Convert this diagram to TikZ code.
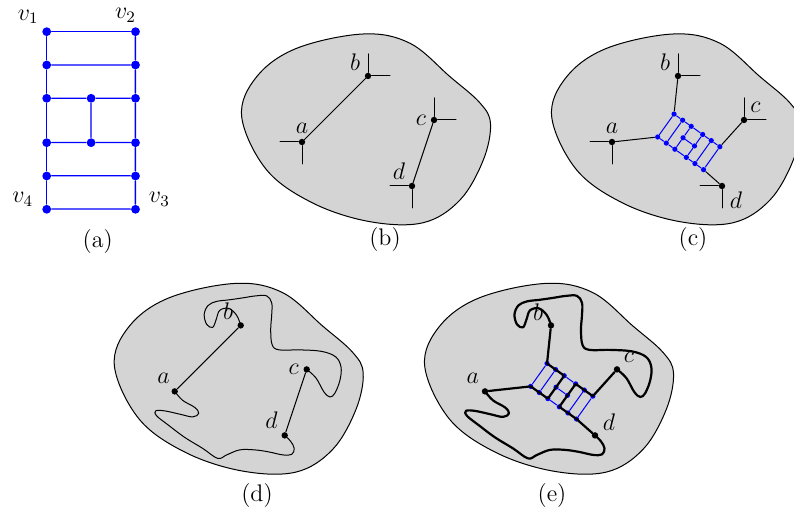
\documentclass[tikz,border=0pt]{standalone}
\usetikzlibrary{positioning}

% the grey region of panels (b)--(e), in panel coordinates
\newcommand{\drawregion}{%
  \draw[region] plot[smooth cycle, tension=0.6] coordinates {
    (11.7,143.3) (26.7,183.3) (66.7,211.7) (133.3,226) (180,216.7) (220,183.3)
    (250,157) (260.5,136) (253.3,100) (230,60) (193.3,37.3) (140,38.3)
    (83.3,56.7) (36.7,90)};}

% the gadget graph, v1 = L1, v2 = R1, v3 = R6, v4 = L6
\newcommand{\ladder}[1]{%
  \foreach \n/\x/\y in {L1/0/0, L2/0/-0.75, L3/0/-1.5, L4/0/-2.5, L5/0/-3.25, L6/0/-4,
                        R1/2/0, R2/2/-0.75, R3/2/-1.5, R4/2/-2.5, R5/2/-3.25, R6/2/-4,
                        M3/1/-1.5, M4/1/-2.5}
    \node[vtx=#1] (\n) at (\x,\y) {};
  \foreach \u/\v in {L1/L2, L2/L3, L3/L4, L4/L5, L5/L6, R1/R2, R2/R3, R3/R4, R4/R5, R5/R6,
                     L1/R1, L2/R2, L5/R5, L6/R6, L3/M3, M3/R3, L4/M4, M4/R4, M3/M4}
    \draw[gedge] (\u) -- (\v);
}

\newcommand{\adcurve}[1]{%
  \draw[#1] plot[smooth, tension=0.6] coordinates {(a.center) (80,109) (92,102) (96,96)
    (90,92.5) (78,95) (62,98.5) (53,98.5) (54,93.5) (66,84) (82,72) (100,61) (115,51)
    (124,54.5) (137,59.5) (152,59.5) (166,57.5) (180,54.5) (189,55) (191.5,61) (188,68)
    (d.center)};}

\newcommand{\bccurve}[1]{%
  \draw[#1] plot[smooth, tension=0.6] coordinates {(b.center) (134,194) (126,201) (117,199)
    (113.5,190) (110,182) (104,185) (101.5,195) (105.5,204) (114,208) (126,209.5)
    (140,211.5) (153,213.5) (164,213.5) (169,206.5) (169,194.5) (168,179.5) (169.5,164.5)
    (176.5,159.5) (197,159.5) (219,158) (233,152.5) (238.3,142.4) (237.3,129.4)
    (232.3,116.4) (227.3,112.4) (221.3,117.4) (213.3,131.4) (c.center)};}

\begin{document}
\begin{tikzpicture}[x=0.5pt, y=0.5pt, font=\large, line join=round, line cap=round,
    region/.style={draw, fill=black!17, line width=0.5pt},
    term/.style={circle, fill, inner sep=0pt, minimum size=3.2pt},
    vtx/.style={circle, fill=blue, inner sep=0pt, minimum size=#1},
    gedge/.style={draw=blue},
    vname/.style={inner sep=2pt},
    wire/.style={line width=0.5pt},
    route/.style={line width=1.1pt},
    every label/.style={inner sep=2pt}]
  \useasboundingbox (0,0) rectangle (794,517);

  % (a)
  \begin{scope}[shift={(46.7,485.3)}, scale=44.4, line width=0.65pt]
    \ladder{4.4pt}
  \end{scope}
  \node[vname, above left=0pt of L1] (v1) {$v_1$};
  \node[vname, above=0pt of R1, xshift=-5pt] (v2) {$v_2$};
  \node[vname, right=2pt of R6, yshift=5pt] (v3) {$v_3$};
  \node[vname, left=2pt of L6, yshift=5pt] (v4) {$v_4$};

  % (b)
  \begin{scope}[shift={(230,257)}]
    \drawregion
    \node[term, label=above:$a$] (a) at (72,118) {};
    \node[term, label=160:$b$] (b) at (138,184) {};
    \node[term, label=left:$c$] (c) at (204,140) {};
    \node[term, label=135:$d$] (d) at (182,74) {};
    \draw[wire] (a) -- (b) (c) -- (d);
    \foreach \n/\i/\j in {a/180/270, b/90/0, c/90/0, d/180/270}
      \draw[wire] (\n) -- ++(\i:22) (\n) -- ++(\j:22);
  \end{scope}

  % (c)
  \begin{scope}[shift={(540,257)}]
    \drawregion
    \node[term, label=above:$a$] (a) at (72,118) {};
    \node[term, label=160:$b$] (b) at (138,184) {};
    \node[term, label=55:$c$] (c) at (204,140) {};
    \node[term, label=-20:$d$] (d) at (182,74) {};
    \foreach \n/\i/\j in {a/180/270, b/90/0, c/90/0, d/180/270}
      \draw[wire] (\n) -- ++(\i:22) (\n) -- ++(\j:22);
    \begin{scope}[shift={(117.7,123)}, rotate=54.5, scale=14.07, line width=0.5pt]
      \ladder{2.6pt}
    \end{scope}
    \draw[wire] (a) -- (L1) (b) -- (R1) (c) -- (R6) (d) -- (L6);
  \end{scope}

  % (d)
  \begin{scope}[shift={(102.7,7.6)}]
    \drawregion
    \node[term, label=100:$a$] (a) at (72,118) {};
    \node[term, label=150:$b$] (b) at (138,184) {};
    \node[term, label=left:$c$] (c) at (204,140) {};
    \node[term, label=140:$d$] (d) at (182,74) {};
    \draw[wire] (a) -- (b) (c) -- (d);
    \adcurve{wire}
    \bccurve{wire}
  \end{scope}

  % (e)
  \begin{scope}[shift={(413,7.6)}]
    \drawregion
    \node[term, label=115:$a$] (a) at (72,118) {};
    \node[term, label=165:$b$] (b) at (138,184) {};
    \node[term, label=45:$c$] (c) at (204,140) {};
    \node[term, label=15:$d$] (d) at (182,74) {};
    \begin{scope}[shift={(117.7,123)}, rotate=54.5, scale=14.07, line width=0.5pt]
      \ladder{2.6pt}
    \end{scope}
    \adcurve{route}
    \bccurve{route}
    \draw[route] (a) -- (L1.center) -- (L2.center) -- (L3.center) -- (M3.center)
      -- (R3.center) -- (R2.center) -- (R1.center) -- (b);
    \draw[route] (d) -- (L6.center) -- (L5.center) -- (L4.center) -- (M4.center)
      -- (R4.center) -- (R5.center) -- (R6.center) -- (c);
  \end{scope}

  % captions
  \node (capa) at (97.7,275) {(a)};
  \node (capb) at (385,277) {(b)};
  \node (capc) at (693,277) {(c)};
  \node (capd) at (257,21.5) {(d)};
  \node (cape) at (552,21.5) {(e)};
\end{tikzpicture}
\end{document}
